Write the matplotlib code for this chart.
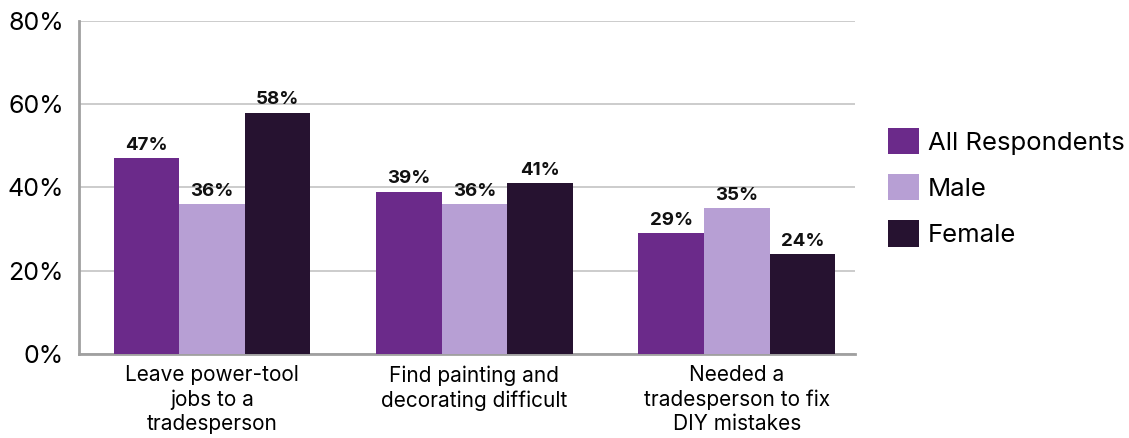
import numpy as np
import matplotlib
matplotlib.use('Agg')
import matplotlib.pyplot as plt

plt.rcParams['font.family'] = ['Inter', 'DejaVu Sans']

categories = ['Leave power-tool\njobs to a\ntradesperson',
              'Find painting and\ndecorating difficult',
              'Needed a\ntradesperson to fix\nDIY mistakes']
series_names = ['All Respondents', 'Male', 'Female']
all_resp = [47, 39, 29]
male = [36, 36, 35]
female = [58, 41, 24]
colors = ['#6B2A8A', '#B79FD4', '#261230']

fig = plt.figure(figsize=(11.29, 4.38), dpi=100)
ax = fig.add_axes([79 / 1129, 84 / 438, (855 - 79) / 1129, (354 - 21) / 438])

x = np.arange(len(categories))
w = 0.25
for i, (vals, name) in enumerate(zip([all_resp, male, female], series_names)):
    bars = ax.bar(x + (i - 1) * w, vals, w, color=colors[i], label=name, zorder=3)
    for b, v in zip(bars, vals):
        ax.text(b.get_x() + b.get_width() / 2, v + 1.0, f'{v}%', ha='center', va='bottom',
                fontsize=13.5, fontweight='bold', color='#111111', zorder=4)

ax.set_ylim(0, 80)
ax.set_xlim(-0.507, 2.45)
ax.set_yticks([0, 20, 40, 60, 80])
ax.set_yticklabels([f'{t}%' for t in [0, 20, 40, 60, 80]], fontsize=18)
ax.set_xticks(x)
ax.set_xticklabels(categories, fontsize=15, linespacing=1.27)
ax.tick_params(axis='both', length=0, pad=11)
ax.tick_params(axis='x', pad=8)
ax.grid(axis='y', color='#c4c4c4', linewidth=1.2, zorder=0)
for s in ['top', 'right']:
    ax.spines[s].set_visible(False)
for s in ['left', 'bottom']:
    ax.spines[s].set_color('#a0a0a0')
    ax.spines[s].set_linewidth(2)

ax.legend(loc='center left', bbox_to_anchor=(1.029, 0.5), frameon=False, fontsize=18.5,
          handlelength=1.2, handleheight=1.2, handletextpad=0.35, labelspacing=0.75,
          borderaxespad=0)

fig.savefig('out.png', dpi=100)
